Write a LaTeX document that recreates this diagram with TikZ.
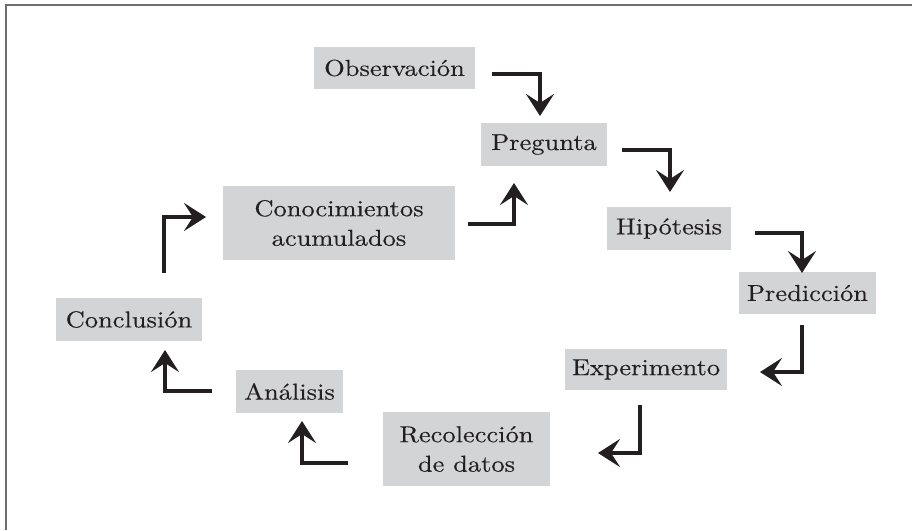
\documentclass[tikz,border=0pt]{standalone}
\usepackage{fontspec}
\setmainfont{lmroman10-regular.otf}[FakeStretch=1.15, FakeBold=0.3]
\usetikzlibrary{arrows.meta}
\definecolor{boxgray}{HTML}{D3D4D6}
\definecolor{ink}{HTML}{231F20}
\definecolor{framegray}{HTML}{6E6E6E}
\begin{document}
\begin{tikzpicture}[x=1pt,y=-1pt,
  stage/.style={fill=boxgray, text=ink, inner sep=0pt, align=center,
    font=\fontsize{23}{29.5}\selectfont},
  arr/.style={draw=ink, line width=4.5pt,
    -{Stealth[length=22pt,width=28pt,inset=9pt]}}]
\useasboundingbox (0,0) rectangle (912,530);
\draw[framegray, line width=2pt] (6,530) -- (6,5) -- (912,5);
% boxes
\node[stage, minimum width=161pt, minimum height=42pt] (obs) at (394.5,68) {Observación};
\node[stage, minimum width=126pt, minimum height=43pt] (preg) at (544,144.5) {Pregunta};
\node[stage, minimum width=124pt, minimum height=43pt] (hip) at (669,228.5) {Hipótesis};
\node[stage, minimum width=137pt, minimum height=42pt] (pred) at (807.5,293) {Predicción};
\node[stage, minimum width=162pt, minimum height=41pt] (exp) at (646,369.5) {Experimento};
\node[stage, minimum width=167pt, minimum height=74pt] (rec) at (466.5,449) {Recolección\\de datos};
\node[stage, minimum width=107pt, minimum height=43pt] (anal) at (289.5,391.5) {Análisis};
\node[stage, minimum width=146pt, minimum height=43pt] (concl) at (129,319.5) {Conclusión};
\node[stage, minimum width=232pt, minimum height=74pt] (con) at (339,223) {Conocimientos\\acumulados};
% arrow anchor points
\coordinate (a1s) at (492,74);  \coordinate (a1e) at (540,116);
\coordinate (a2s) at (468,224); \coordinate (a2e) at (514,183);
\coordinate (a3s) at (622,150); \coordinate (a3e) at (670,192);
\coordinate (a4s) at (755,233); \coordinate (a4e) at (802,273);
\coordinate (a5s) at (802,325); \coordinate (a5e) at (760,372);
\coordinate (a6s) at (640,405); \coordinate (a6e) at (598,453);
\coordinate (a7s) at (348,463); \coordinate (a7e) at (302,421);
\coordinate (a8s) at (212,391); \coordinate (a8e) at (165,350);
\coordinate (a9s) at (164,273); \coordinate (a9e) at (206,217);
% arrows
\draw[arr] (a1s) -| (a1e);
\draw[arr] (a3s) -| (a3e);
\draw[arr] (a4s) -| (a4e);
\draw[arr] (a5s) |- (a5e);
\draw[arr] (a6s) |- (a6e);
\draw[arr] (a7s) -| (a7e);
\draw[arr] (a8s) -| (a8e);
\draw[arr] (a9s) |- (a9e);
\draw[arr] (a2s) -| (a2e);
\end{tikzpicture}
\end{document}
